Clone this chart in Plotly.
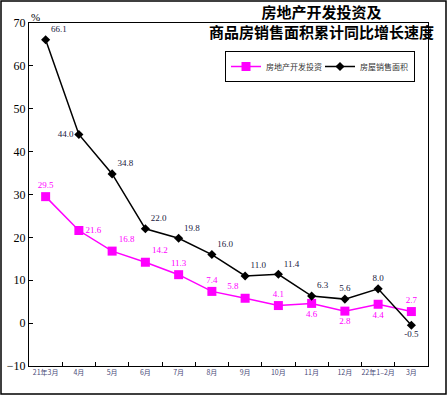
import plotly.graph_objects as go

categories = ["21年3月", "4月", "5月", "6月", "7月", "8月", "9月", "10月", "11月", "12月", "22年1–2月", "3月"]
investment = [29.5, 21.6, 16.8, 14.2, 11.3, 7.4, 5.8, 4.1, 4.6, 2.8, 4.4, 2.7]
sales_area = [66.1, 44.0, 34.8, 22.0, 19.8, 16.0, 11.0, 11.4, 6.3, 5.6, 8.0, -0.5]
inv_pos = ["top center", "middle right", "top right", "top right", "top center", "top center",
           "top left", "top center", "bottom center", "bottom center", "bottom center", "top center"]
sales_pos = ["top right", "middle left", "top right", "top right", "top right", "top right",
             "top right", "top right", "top right", "top center", "top center", "bottom center"]

W, H = 448, 396
ML, MR, MT, MB = 29, 20, 23, 30
pw, ph = W - ML - MR, H - MT - MB

serif = "Liberation Serif, Times New Roman, serif"
cjk = "Noto Sans CJK SC"

fig = go.Figure()
fig.add_trace(go.Scatter(
    x=categories, y=investment, name="房地产开发投资", mode="lines+markers+text",
    line=dict(color="#ff00ff", width=1.5),
    marker=dict(symbol="square", size=9, color="#ff00ff"),
    text=[f"{v:.1f}" for v in investment], textposition=inv_pos,
    textfont=dict(family=serif, size=9, color="#ff00ff"),
))
fig.add_trace(go.Scatter(
    x=categories, y=sales_area, name="房屋销售面积", mode="lines+markers+text",
    line=dict(color="black", width=1.5),
    marker=dict(symbol="diamond", size=7, color="black"),
    text=[f"{v:.1f}" for v in sales_area], textposition=sales_pos,
    textfont=dict(family=serif, size=9, color="#202040"),
))

fig.update_layout(
    width=W, height=H,
    margin=dict(l=ML, r=MR, t=MT, b=MB, autoexpand=False),
    paper_bgcolor="white", plot_bgcolor="white",
    showlegend=True,
    legend=dict(orientation="h", x=(415 - ML) / pw, y=(H - MB - 51) / ph,
                xanchor="right", yanchor="top",
                bordercolor="black", borderwidth=1, bgcolor="white",
                font=dict(family=cjk, size=8, color="#333"),
                entrywidth=49, entrywidthmode="pixels", tracegroupgap=0),
    xaxis=dict(type="category", range=[-0.5, 11.5], tickson="boundaries",
               ticks="inside", ticklen=4, tickcolor="black", tickangle=0, automargin=False,
               showline=True, linecolor="black", linewidth=1, mirror=True,
               showgrid=False, tickfont=dict(family=cjk, size=7, color="#4a4a78")),
    yaxis=dict(range=[-10, 70], dtick=10, ticks="inside", ticklen=4, tickcolor="black",
               showline=True, linecolor="black", linewidth=1, mirror=True, automargin=False,
               showgrid=False, zeroline=False,
               tickfont=dict(family=serif, size=12, color="black")),
    annotations=[
        dict(text="<b>房地产开发投资及<br>商品房销售面积累计同比增长速度</b>",
             xref="paper", yref="paper", x=(321 - ML) / pw, y=1 + 1 / ph,
             xanchor="center", yanchor="middle", showarrow=False,
             font=dict(family=cjk, size=15, color="black")),
        dict(text="%", xref="paper", yref="paper", x=0, y=1 + 6 / ph,
             xanchor="left", yanchor="middle", showarrow=False,
             font=dict(family=serif, size=11, color="black")),
    ],
    shapes=[dict(type="rect", xref="paper", yref="paper",
                 x0=(1 - ML) / pw, x1=(446 - ML) / pw,
                 y0=(H - MB - 394) / ph, y1=(H - MB - 1) / ph,
                 line=dict(color="black", width=1.5), layer="below")],
)

fig.write_html("out.html", config={"displayModeBar": False},
               post_script="document.body.style.margin='0';")
